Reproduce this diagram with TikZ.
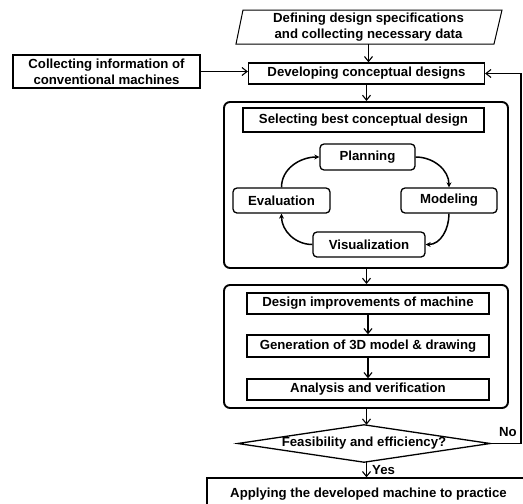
\documentclass[tikz,border=0pt]{standalone}
\usepackage{fontspec}
\setmainfont{Liberation Sans}
\usetikzlibrary{arrows.meta,calc}
\begin{document}
\begin{tikzpicture}[x=1pt,y=-1pt,
  every node/.style={font=\bfseries\fontsize{13.2}{16}\selectfont, inner sep=0pt, align=center},
  box/.style={draw, line width=1.3pt, minimum width=#1},
  rbox/.style={draw, line width=1.3pt, rounded corners=4pt},
  group/.style={draw, line width=1.9pt, rounded corners=6pt},
  arr/.style={line width=1.1pt, -{Straight Barb[length=5pt,width=8pt]}},
  cyc/.style={line width=1.5pt, -{Stealth[length=5pt,width=5pt]}}]
\useasboundingbox (0,0) rectangle (523,504);
\clip (0,0) rectangle (523,504);
% top parallelogram
\node (spec) at (368.5,27) [minimum width=250pt, minimum height=34pt] {Defining design specifications\\and collecting necessary data};
\draw[line width=1pt] (243,10) -- (502,10) -- (494,44) -- (236,44) -- cycle;
\node (dev) at (366.5,73.5) [box=236pt, minimum height=21pt] {Developing conceptual designs};
\node (coll) at (106.5,71.5) [box=187pt, minimum height=33pt] {Collecting information of\\conventional machines};
% group 1
\node (g1) at (366,185) [group, minimum width=284pt, minimum height=166pt] {};
\node (sel) at (363.5,120) [box=241pt, minimum height=24pt] {Selecting best conceptual design};
\node (plan) at (367.5,157) [rbox, minimum width=95pt, minimum height=26pt] {Planning};
\node (eval) at (281.5,200.5) [rbox, minimum width=97pt, minimum height=25pt] {Evaluation};
\node (model) at (449,200.5) [rbox, minimum width=96pt, minimum height=25pt] {Modeling};
\node (vis) at (369,244.5) [rbox, minimum width=112pt, minimum height=25pt] {Visualization};
\draw[cyc] (plan.east) to[out=0,in=90] (model.north);
\draw[cyc] (model.south) to[out=-90,in=0] (vis.east);
\draw[cyc] (vis.west) to[out=180,in=-90] (eval.south);
\draw[cyc] (eval.north) to[out=90,in=180] (plan.west);
% group 2
\node (g2) at (366,346.5) [group, minimum width=284pt, minimum height=123pt] {};
\node (imp) at (368,303.5) [box=242pt, minimum height=21pt] {Design improvements of machine};
\node (gen) at (368,346) [box=242pt, minimum height=22pt] {Generation of 3D model \& drawing};
\node (ana) at (368,389.5) [box=242pt, minimum height=21pt] {Analysis and verification};
% decision
\node (dia) at (364,443.5) [minimum width=252pt, minimum height=37pt] {Feasibility and efficiency?};
\draw[line width=1.3pt] (dia.west) -- (dia.north) -- (dia.east) -- (dia.south) -- cycle;
\node (final) at (368.5,494) [box=323pt, minimum height=32pt] {Applying the developed machine to practice};
\node (no) at (508,432) {No};
\node (yes) [anchor=west] at (372,470) {Yes};
% connectors
\draw[arr] (spec.south) -- (spec.south |- dev.north);
\draw[arr] (coll.east) -- (coll.east -| dev.west);
\draw[arr] (dev.south) -- (dev.south |- g1.north);
\draw[arr] (dev.south |- g1.south) -- (dev.south |- g2.north);
\draw[arr] (imp.south) -- (gen.north);
\draw[arr] (gen.south) -- (ana.north);
\draw[arr] (dev.south |- g2.south) -- (dev.south |- dia.north);
\draw[arr] (dev.south |- dia.south) -- (dev.south |- final.north);
\coordinate (r1) at (521,443.5);
\coordinate (r2) at (521,73.5);
\draw[arr] (dia.east) -- (r1) -- (r2) -- (dev.east);
\end{tikzpicture}
\end{document}
